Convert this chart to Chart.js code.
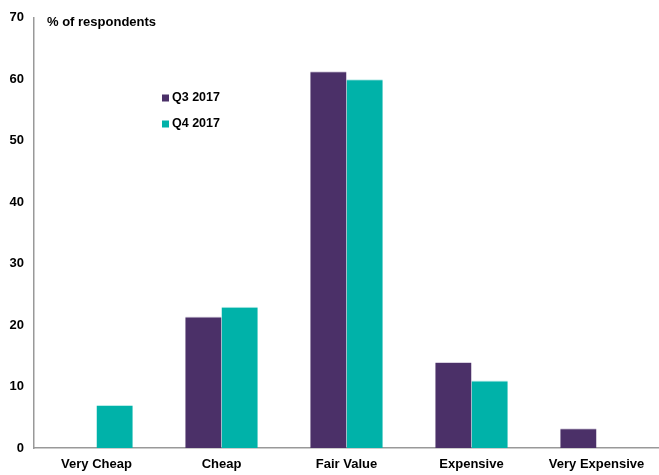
<!DOCTYPE html>
<html><head><meta charset="utf-8">
<script src="https://cdn.jsdelivr.net/npm/chart.js@4.4.1/dist/chart.umd.min.js"></script>
<style>html,body{margin:0;padding:0;background:#fff}#wrap{width:659px;height:475px;position:relative}</style>
</head><body><div id="wrap"><canvas id="c"></canvas></div>
<script>
const categories = ["Very Cheap", "Cheap", "Fair Value", "Expensive", "Very Expensive"];
const q3Values = [0, 21.4, 61.3, 14, 3.2];
const q4Values = [7, 23, 60, 11, 0];
const seriesLabels = ["Q3 2017", "Q4 2017"];
const yTicks = [0, 10, 20, 30, 40, 50, 60, 70];
const axisTitle = "% of respondents";

const FONT = "'Liberation Sans', Arial, sans-serif";
const purple = "#4B3068";
const teal = "#00B2A9";

const overlay = {
  id: 'overlay',
  afterDraw(chart) {
    const ctx = chart.ctx;
    ctx.save();
    ctx.font = "bold 13px " + FONT;
    ctx.fillStyle = "#000";
    ctx.textBaseline = "middle";
    ctx.textAlign = "left";
    ctx.fillText(axisTitle, 47, 22);
    const ys = [98, 124];
    chart.data.datasets.forEach((ds, i) => {
      const y = ys[i];
      ctx.fillStyle = ds.backgroundColor;
      ctx.fillRect(162, y - 3.5, 7, 7);
      ctx.fillStyle = "#000";
      ctx.font = "bold 12.5px " + FONT;
      ctx.fillText(ds.label, 172, y);
    });
    ctx.restore();
  }
};

new Chart(document.getElementById('c'), {
  type: 'bar',
  data: {
    labels: categories,
    datasets: [
      { label: seriesLabels[0], data: q3Values, backgroundColor: purple, borderColor: "#d8d0e0", borderWidth: {top:1, left:0, right:0, bottom:0}, borderSkipped: false },
      { label: seriesLabels[1], data: q4Values, backgroundColor: teal, borderColor: "#b8ece8", borderWidth: {top:1, left:0, right:0, bottom:0}, borderSkipped: false }
    ]
  },
  options: {
    responsive: true,
    maintainAspectRatio: false,
    animation: false,
    layout: { padding: { top: 11, right: 0, left: 0, bottom: 0 } },
    datasets: { bar: { categoryPercentage: 0.58, barPercentage: 1.0 } },
    plugins: { legend: { display: false }, tooltip: { enabled: false } },
    scales: {
      x: {
        grid: { display: false, drawTicks: false },
        border: { display: true, color: "#999", width: 1.5 },
        ticks: { color: "#000", font: { family: FONT, size: 13, weight: 'bold' }, padding: 9, maxRotation: 0, autoSkip: false },
        afterFit(s) { s.height = 27; }
      },
      y: {
        min: 0, max: 70,
        afterBuildTicks(s) { s.ticks = yTicks.map(v => ({ value: v })); },
        grid: { display: false, drawTicks: false },
        border: { display: true, color: "#999", width: 1.5 },
        ticks: { color: "#000", font: { family: FONT, size: 13, weight: 'bold' }, padding: 10 },
        afterFit(s) { s.width = 34; }
      }
    }
  },
  plugins: [overlay]
});
</script></body></html>
